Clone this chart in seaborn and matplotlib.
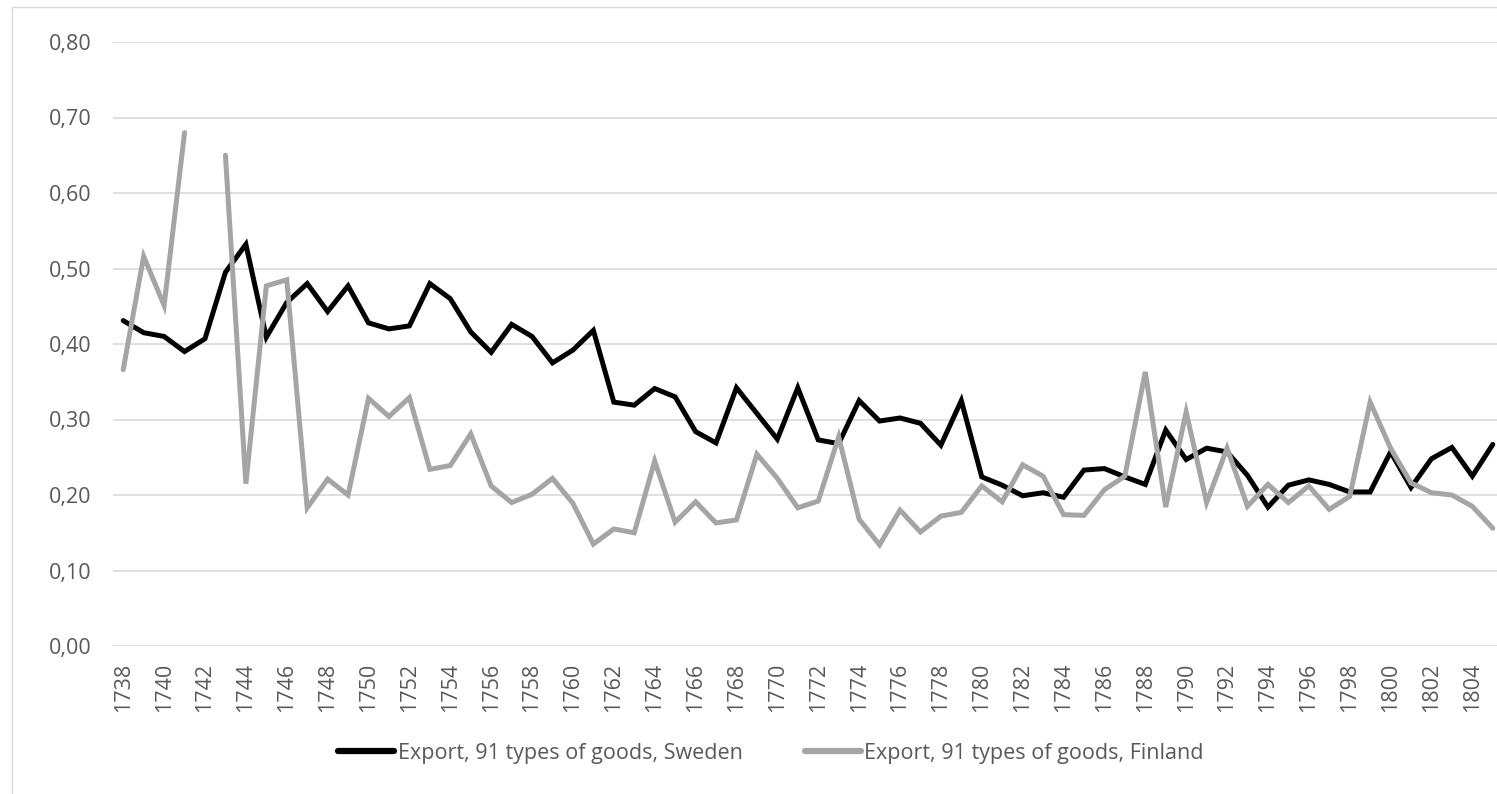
import numpy as np
import pandas as pd
import matplotlib
matplotlib.use("Agg")
import matplotlib.pyplot as plt
from matplotlib.ticker import FuncFormatter
from matplotlib.patches import Rectangle
import seaborn as sns

# years 1738-1805
years = list(range(1738, 1806))

sweden = [0.431, 0.415, 0.410, 0.390, 0.407, 0.495, 0.532, 0.409, 0.455, 0.480,
          0.443, 0.477, 0.428, 0.420, 0.424, 0.480, 0.460, 0.416, 0.389, 0.426,
          0.410, 0.375, 0.392, 0.418, 0.323, 0.319, 0.341, 0.330, 0.284, 0.269,
          0.342, 0.308, 0.274, 0.342, 0.273, 0.268, 0.325, 0.298, 0.302, 0.295,
          0.266, 0.325, 0.224, 0.213, 0.199, 0.203, 0.197, 0.233, 0.235, 0.224,
          0.214, 0.286, 0.247, 0.262, 0.257, 0.226, 0.184, 0.213, 0.220, 0.214,
          0.204, 0.204, 0.257, 0.210, 0.248, 0.263, 0.225, 0.267]

# 1742 missing for Finland
finland = [0.366, 0.516, 0.451, 0.680, np.nan, 0.650, 0.215, 0.477, 0.485, 0.183,
           0.221, 0.200, 0.328, 0.304, 0.329, 0.234, 0.239, 0.281, 0.212, 0.190,
           0.201, 0.222, 0.189, 0.135, 0.155, 0.150, 0.245, 0.164, 0.191, 0.163,
           0.167, 0.254, 0.222, 0.183, 0.192, 0.277, 0.168, 0.134, 0.180, 0.151,
           0.172, 0.177, 0.212, 0.191, 0.240, 0.225, 0.174, 0.173, 0.207, 0.225,
           0.363, 0.184, 0.310, 0.190, 0.262, 0.185, 0.214, 0.190, 0.212, 0.181,
           0.198, 0.323, 0.262, 0.216, 0.203, 0.200, 0.185, 0.156]

series_names = ["Export, 91 types of goods, Sweden", "Export, 91 types of goods, Finland"]
colors = ["#000000", "#a5a5a5"]

# long table, with a segment id so the gap in Finland stays a gap
rows = []
for y, v in zip(years, sweden):
    rows.append({"year": y, "value": v, "series": series_names[0], "seg": 0})
seg = 1
for y, v in zip(years, finland):
    if np.isnan(v):
        seg += 1
        continue
    rows.append({"year": y, "value": v, "series": series_names[1], "seg": seg})
df = pd.DataFrame(rows)

sns.set_style("white")
plt.rcParams["font.family"] = ["Open Sans", "DejaVu Sans"]
fs = 15.5

fig = plt.figure(figsize=(14.97, 7.94), dpi=100)
ax = fig.add_axes([113 / 1497, 1 - 646 / 794, (1503 - 113) / 1497, (646 - 42) / 794])

sns.lineplot(data=df, x="year", y="value", hue="series", units="seg", estimator=None,
             palette=colors, hue_order=series_names, linewidth=3.6, ax=ax,
             solid_joinstyle="miter", solid_capstyle="round")

ax.set_xlim(1737.5, 1805.5)
ax.set_ylim(0, 0.8)
ax.set_yticks(np.arange(0, 0.81, 0.1))
ax.yaxis.set_major_formatter(FuncFormatter(lambda v, p: f"{v:.2f}".replace(".", ",")))
ax.set_xticks(range(1738, 1805, 2))
ax.set_xticklabels([str(y) for y in range(1738, 1805, 2)], rotation=90)
ax.tick_params(axis="both", length=0, colors="#595959", labelsize=fs)
ax.tick_params(axis="x", pad=12)
ax.tick_params(axis="y", pad=15.5)
ax.grid(axis="y", color="#d9d9d9", linewidth=1.2)
ax.set_axisbelow(True)
for s in ax.spines.values():
    s.set_visible(False)
ax.set_xlabel("")
ax.set_ylabel("")

handles, labels = ax.get_legend_handles_labels()
for h in handles:
    h.set_linewidth(4.5)
    h.set_solid_capstyle("round")
ax.legend(handles, labels, loc="center", bbox_to_anchor=(771 / 1497, 1 - 753 / 794),
          bbox_transform=fig.transFigure, ncol=2, frameon=False, fontsize=fs,
          handlelength=2.6, handletextpad=0.15, columnspacing=2.9, labelcolor="#595959")

# outer chart border (right and bottom edges fall outside the picture)
fig.patches.append(Rectangle((12 / 1497, -0.05), 1.2, 1.05 - 7 / 794, transform=fig.transFigure,
                             fill=False, edgecolor="#d9d9d9", linewidth=1))

fig.savefig("out.png", dpi=100)
